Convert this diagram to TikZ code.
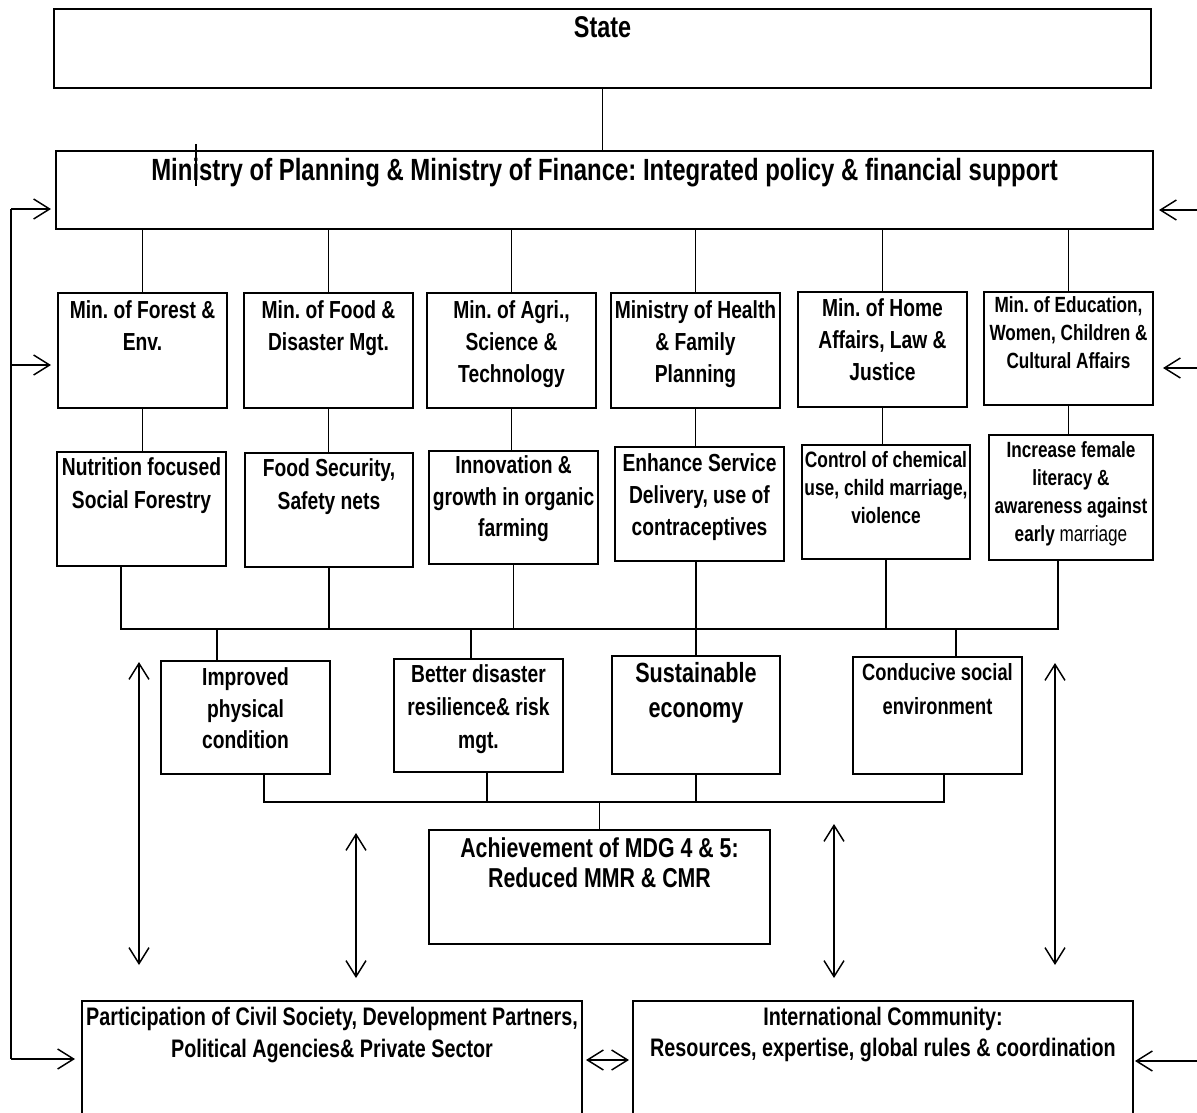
\documentclass[tikz,border=0pt]{standalone}
\usepackage{fontspec}
\setmainfont{Liberation Sans}[FakeStretch=0.78]
\usetikzlibrary{arrows.meta}
\frenchspacing

% a framed panel given by its corners (pixel units)
\newcommand{\panel}[5]{%
  \node[box, minimum width={(#4-(#2))*0.75pt}, minimum height={(#5-(#3))*0.75pt}]
    (#1) at ({(#2+#4)/2},{(#3+#5)/2}) {};}
% the wording of a panel: name, size, line skip, centre of first line, text
\newcommand{\paneltext}[5]{%
  \node[lbl, font={\fontsize{#2}{#3}\selectfont\bfseries}]
    (#1-t) at (#1.north |- 0,{#4-0.496*#2}) {#5};}

\begin{document}
\begin{tikzpicture}[x=0.75pt,y=-0.75pt,
  box/.style={draw, line width=1.5pt, inner sep=0pt, outer sep=0pt},
  lbl/.style={anchor=north, align=center, inner sep=0pt, outer sep=0pt},
  link/.style={line width=0.9pt},
  flow/.style={line width=1.1pt},
  >={Straight Barb[length=12pt,width=15pt]}]

\useasboundingbox (0,0) rectangle (1197,1113);
\fill[white] (0,0) rectangle (1197,1113);
\clip (0,0) rectangle (1197,1113);

% ---- top level
\panel{state}{54}{9}{1151}{88}
\paneltext{state}{22.5}{27}{28}{State}
\panel{ministry}{56}{151}{1153}{229}
\paneltext{ministry}{23}{28}{170}{Ministry of Planning \& Ministry of Finance: Integrated policy \& financial support}

% ---- ministries
\panel{forest}{58}{293}{227}{408}
\paneltext{forest}{18.5}{24}{310}{Min. of Forest \&\\Env.}
\panel{food}{244}{293}{413}{408}
\paneltext{food}{18.5}{24}{310}{Min. of Food \&\\Disaster Mgt.}
\panel{agri}{427}{293}{596}{408}
\paneltext{agri}{18.5}{24}{310}{Min. of Agri.,\\Science \&\\Technology}
\panel{health}{611}{293}{780}{408}
\paneltext{health}{18.5}{24}{310}{Ministry of Health\\\& Family\\Planning}
\panel{home}{798}{292}{967}{407}
\paneltext{home}{18.5}{24}{308}{Min. of Home\\Affairs, Law \&\\Justice}
\panel{edu}{984}{292}{1153}{405}
\paneltext{edu}{16.5}{21}{305}{Min. of Education,\\Women, Children \&\\Cultural Affairs}

% ---- programmes
\panel{nutr}{57}{452}{226}{566}
\paneltext{nutr}{18.5}{24.7}{467}{Nutrition focused\\Social Forestry}
\panel{foodsec}{245}{453}{413}{567}
\paneltext{foodsec}{18.5}{24.7}{468}{Food Security,\\Safety nets}
\panel{innov}{429}{451}{598}{564}
\paneltext{innov}{18.5}{23.6}{465}{Innovation \&\\growth in organic\\farming}
\panel{enhance}{615}{447}{784}{561}
\paneltext{enhance}{18.5}{24}{463}{Enhance Service\\Delivery, use of\\contraceptives}
\panel{control}{802}{445}{970}{559}
\paneltext{control}{16.7}{21}{460}{Control of chemical\\use, child marriage,\\violence}
\panel{incr}{989}{435}{1153}{560}
\paneltext{incr}{16.5}{21}{450}{Increase female\\literacy \&\\awareness against\\early {\mdseries marriage}}

% ---- outcomes
\panel{improved}{161}{661}{330}{774}
\paneltext{improved}{18.5}{23.6}{677}{Improved\\physical\\condition}
\panel{better}{394}{659}{563}{772}
\paneltext{better}{18.5}{24.5}{674}{Better disaster\\resilience\& risk\\mgt.}
\panel{sust}{612}{656}{780}{774}
\paneltext{sust}{20.8}{26}{673}{Sustainable\\economy}
\panel{conducive}{853}{657}{1022}{774}
\paneltext{conducive}{17.6}{25.5}{672}{Conducive social\\environment}

% ---- goal
\panel{achieve}{429}{830}{770}{944}
\paneltext{achieve}{20.5}{22.5}{848}{Achievement of MDG 4 \& 5:\\Reduced MMR \& CMR}

% ---- partners
\panel{part}{82}{1001}{582}{1140}
\paneltext{part}{19}{24}{1017}{Participation of Civil Society, Development Partners,\\Political Agencies\& Private Sector}
\panel{intl}{633}{1001}{1133}{1140}
\paneltext{intl}{19}{23}{1017}{International Community:\\Resources, expertise, global rules \& coordination}

% ---- hierarchy links
\draw[link] (state.south) -- (state.south |- ministry.north);
\foreach \b in {forest,food,agri,health,home,edu}
  \draw[link] (\b.north |- ministry.south) -- (\b.north);
\foreach \a/\b in {forest/nutr,food/foodsec,agri/innov,health/enhance,home/control,edu/incr}
  \draw[link] (\a.south) -- (\a.south |- \b.north);

% upper collecting bus
\coordinate (bus-l) at (121,629);
\coordinate (bus-r) at (1058,629);
\coordinate (mid) at (696,629);
\coordinate (j1) at (217,629);
\coordinate (j2) at (471,629);
\coordinate (j4) at (956,629);
\draw[link] (nutr.south -| bus-l) -- (bus-l) -- (bus-r) -- (incr.south -| bus-r);
\draw[link] (foodsec.south) -- (foodsec.south |- bus-l);
\draw[link] (innov.south) -- (innov.south |- bus-l);
\draw[link] (control.south) -- (control.south |- bus-l);
\draw[link] (enhance.south -| mid) -- (sust.north -| mid);
\draw[link] (j1) -- (j1 |- improved.north);
\draw[link] (j2) -- (j2 |- better.north);
\draw[link] (j4) -- (j4 |- conducive.north);

% lower collecting bus
\coordinate (lo-l) at (264,802);
\coordinate (lo-2) at (487,802);
\coordinate (lo-r) at (944,802);
\draw[link] (improved.south -| lo-l) -- (lo-l) -- (lo-r) -- (conducive.south -| lo-r);
\draw[link] (better.south -| lo-2) -- (lo-2);
\draw[link] (sust.south -| mid) -- (mid |- lo-l);
\draw[link] (achieve.north |- lo-l) -- (achieve.north);

% two-way exchanges
\coordinate (v1a) at (139,662);  \coordinate (v1b) at (139,965);
\coordinate (v2a) at (356,833);  \coordinate (v2b) at (356,978);
\coordinate (v3a) at (834,824);  \coordinate (v3b) at (834,978);
\coordinate (v4a) at (1055,663); \coordinate (v4b) at (1055,965);
\foreach \p in {v1,v2,v3,v4}
  \draw[flow,<->] (\p a) -- (\p b);
\draw[flow,<->,shorten <=3pt,shorten >=3pt] (part.east |- 0,1060) -- (intl.west |- 0,1060);

% feedback loop on the left
\coordinate (fb-top) at (11,209);
\coordinate (fb-mid) at (11,365);
\coordinate (fb-bot) at (11,1059);
\draw[flow] (fb-top) -- (fb-bot);
\draw[flow,->,shorten >=3.75pt] (fb-top) -- (fb-top -| ministry.west);
\draw[flow,->,shorten >=5.25pt] (fb-mid) -- (fb-mid -| forest.west);
\draw[flow,->,shorten >=5.25pt] (fb-bot) -- (fb-bot -| part.west);

% inputs from the right
\coordinate (in-top) at (1197,210);
\coordinate (in-mid) at (1197,368);
\coordinate (in-bot) at (1197,1061);
\draw[flow,->,shorten >=4.5pt] (in-top) -- (in-top -| ministry.east);
\draw[flow,->,shorten >=7.5pt] (in-mid) -- (in-mid -| edu.east);
\draw[flow,->,shorten >=1.5pt] (in-bot) -- (in-bot -| intl.east);

% stray text cursor mark
\coordinate (cur-a) at (196,144);
\coordinate (cur-b) at (196,186);
\draw[line width=0.8pt] (cur-a) -- (cur-b);

\end{tikzpicture}
\end{document}
